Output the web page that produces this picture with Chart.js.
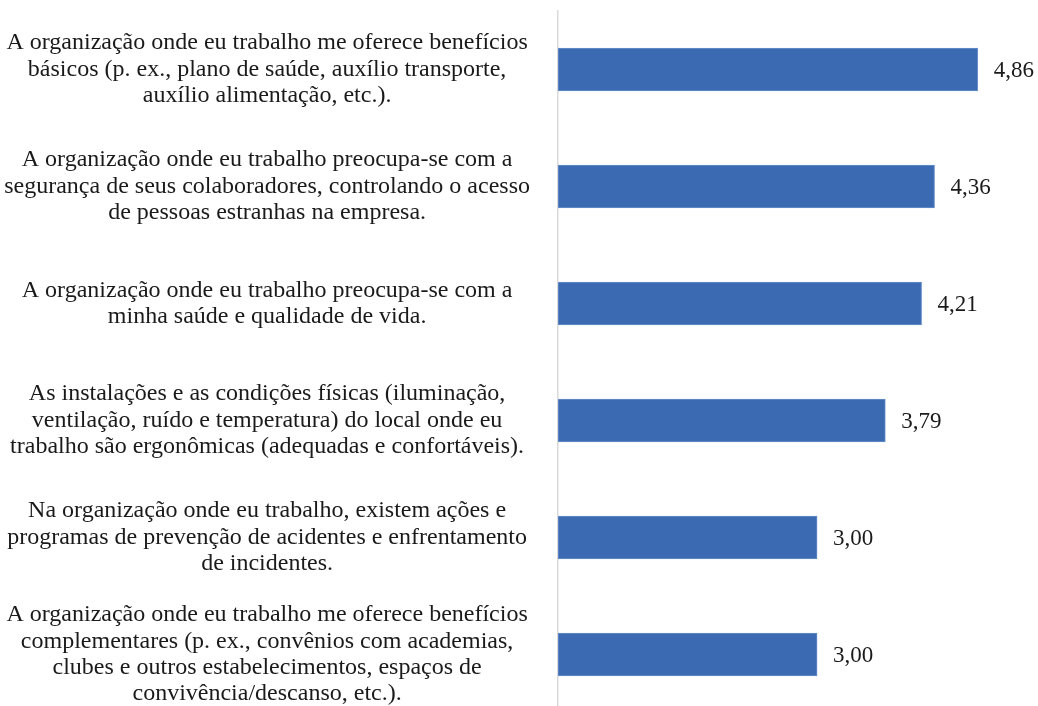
<!DOCTYPE html>
<html>
<head>
<meta charset="utf-8">
<script src="https://cdn.jsdelivr.net/npm/chart.js@4"></script>
<style>
  html, body { margin: 0; padding: 0; background: #fff; overflow: hidden; }
  #wrap { width: 1038px; height: 716px; }
</style>
</head>
<body>
<div id="wrap"><canvas id="chart" width="1038" height="716"></canvas></div>
<script>
// itens do questionário (de cima para baixo)
const categories = [
  ['A organização onde eu trabalho me oferece benefícios', 'básicos (p. ex., plano de saúde, auxílio transporte,', 'auxílio alimentação, etc.).'],
  ['A organização onde eu trabalho preocupa-se com a', 'segurança de seus colaboradores, controlando o acesso', 'de pessoas estranhas na empresa.'],
  ['A organização onde eu trabalho preocupa-se com a', 'minha saúde e qualidade de vida.'],
  ['As instalações e as condições físicas (iluminação,', 'ventilação, ruído e temperatura) do local onde eu', 'trabalho são ergonômicas (adequadas e confortáveis).'],
  ['Na organização onde eu trabalho, existem ações e', 'programas de prevenção de acidentes e enfrentamento', 'de incidentes.'],
  ['A organização onde eu trabalho me oferece benefícios', 'complementares (p. ex., convênios com academias,', 'clubes e outros estabelecimentos, espaços de', 'convivência/descanso, etc.).']
];
const medias = [4.86, 4.36, 4.21, 3.79, 3.00, 3.00];

const fonte = 'Liberation Serif, Times New Roman, serif';
const corTexto = '#1a1a1a';

// rótulos de valor no fim de cada barra
const valorPlugin = {
  id: 'valores',
  afterDatasetsDraw(chart) {
    const ctx = chart.ctx;
    const meta = chart.getDatasetMeta(0);
    ctx.save();
    ctx.font = '23px ' + fonte;
    ctx.fillStyle = corTexto;
    ctx.textAlign = 'left';
    ctx.textBaseline = 'middle';
    meta.data.forEach((bar, i) => {
      const txt = medias[i].toFixed(2).replace('.', ',');
      ctx.fillText(txt, bar.x + 16, bar.y + 1);
    });
    ctx.restore();
  }
};

new Chart(document.getElementById('chart'), {
  type: 'bar',
  data: {
    labels: categories,
    datasets: [{
      data: medias,
      backgroundColor: '#3b6ab3',
      borderColor: '#6a90cb',
      borderWidth: 1,
      borderSkipped: false,
      barThickness: 43
    }]
  },
  options: {
    indexAxis: 'y',
    responsive: false,
    animation: false,
    layout: { padding: { top: 11, bottom: 3, left: 0, right: 5 } },
    plugins: {
      legend: { display: false },
      tooltip: { enabled: false }
    },
    scales: {
      x: {
        display: false,
        min: 0,
        max: 5.5
      },
      y: {
        grid: { display: false, drawTicks: false, tickLength: 0 },
        border: { display: true, color: '#d9d9d9', width: 1.5 },
        ticks: {
          padding: 28,
          crossAlign: 'center',
          color: corTexto,
          font: { family: fonte, size: 24, lineHeight: 1.1 }
        },
        afterFit(scale) {
          scale.width = 558;
          // sem folga extra em cima/embaixo para os rótulos longos
          scale.paddingTop = 0;
          scale.paddingBottom = 0;
        }
      }
    }
  },
  plugins: [valorPlugin]
});
</script>
</body>
</html>
